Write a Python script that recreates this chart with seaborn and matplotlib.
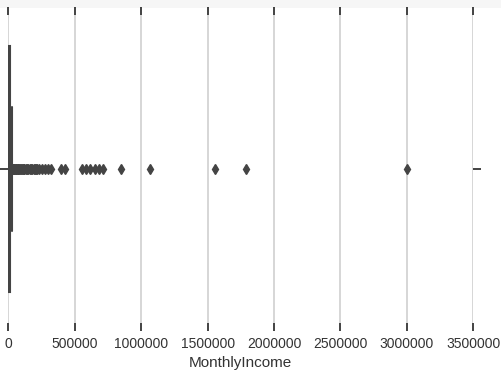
import numpy as np
import pandas as pd
import matplotlib
matplotlib.use("Agg")
import matplotlib.pyplot as plt
import seaborn as sns
from matplotlib.patches import Rectangle

# Typical incomes (bulk of the distribution) and how many of each
income_levels = [0, 1500, 2500, 3400, 4400, 5400, 6800, 8250, 11500, 15500]
level_counts = [30, 30, 30, 30, 30, 30, 30, 30, 30, 30]

# High incomes drawn as outliers
outlier_incomes = [17000, 20000, 23000, 25000, 28000, 30000, 33000, 35000, 38000,
                   40000, 45000, 50000, 55000, 60000, 65000, 70000, 75000, 80000,
                   88000, 95000, 100000, 108000, 115000, 120000, 130000, 140000,
                   150000, 160000, 170000, 180000, 190000, 200000, 208000, 215000,
                   230000, 251000, 276000, 296000, 321000, 396000, 426000,
                   552000, 584000, 614000, 652000, 684000, 714000, 845000,
                   1065000, 1554000, 1787000, 2998000]

xticks = [0, 500000, 1000000, 1500000, 2000000, 2500000, 3000000, 3500000]

income = np.concatenate([np.repeat(income_levels, level_counts), outlier_incomes])
df = pd.DataFrame({"MonthlyIncome": income})

sns.set_theme(style="whitegrid")
plt.rcParams["font.family"] = ["Liberation Sans", "DejaVu Sans"]

fig = plt.figure(figsize=(5.01, 3.85), dpi=100)
ax = fig.add_axes([8.3 / 501, (385 - 323) / 385, (473.3 - 8.3) / 501, (323 - 15) / 385])

dark = "#444444"
sns.boxplot(data=df, x="MonthlyIncome", ax=ax, color=dark, linecolor=dark,
            width=0.8, linewidth=1.5,
            flierprops=dict(marker="d", markersize=5, markerfacecolor=dark,
                            markeredgecolor=dark))

ax.set_xlim(0, 3500000)
ax.set_xticks(xticks)
ax.set_xticklabels([str(v) for v in xticks], fontsize=10, color="#333333")
ax.set_yticks([0])
ax.set_yticklabels([""])
ax.set_xlabel("MonthlyIncome", fontsize=11, color="#333333")
ax.set_ylabel("")

for s in ax.spines.values():
    s.set_visible(False)
ax.grid(axis="x", color="#cfcfcf", linewidth=1.2)
ax.grid(axis="y", visible=False)
ax.tick_params(axis="x", which="both", direction="out", length=6, width=1.2,
               color="#222222", top=True, bottom=True, pad=4)
ax.tick_params(axis="y", which="both", direction="out", length=6, width=1.2,
               color="#222222", left=True, right=True)

fig.patches.append(Rectangle((0, 1 - 8 / 385), 1, 8 / 385, transform=fig.transFigure,
                             facecolor="#f6f6f6", edgecolor="none", zorder=-1))

fig.savefig("out.png", dpi=100)
